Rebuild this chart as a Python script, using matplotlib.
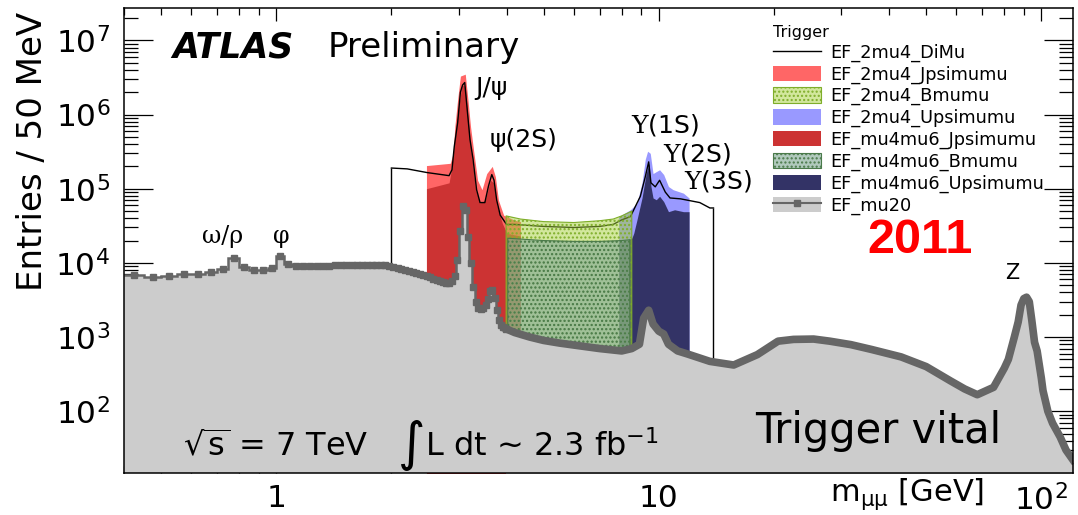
import numpy as np
import matplotlib.pyplot as plt
from matplotlib.patches import Patch
from matplotlib.lines import Line2D
from matplotlib.ticker import LogLocator, NullFormatter

W, H = 1078, 515

# EF_mu20, 50 MeV bins from 0.4 to 4 GeV
edges_lo = np.arange(0.40, 4.0001, 0.05)
mu20_lo = [6800, 6400, 6700, 7000, 7100, 7500, 8200, 11800, 8800, 8000, 7900, 8600,
           12300, 9600, 9200, 9100, 9000, 9100, 9200, 9100, 9300, 9400,
           9300, 9400, 9500, 9400, 9400, 9500, 9400, 9400, 9300, 9100,
           8800, 8600, 8300, 8000, 7800, 7600, 7300, 7000, 6800, 6600,
           6400, 6100, 5900, 5700, 5500, 5400, 5400, 5700, 6700, 11000,
           27000, 58000, 52000, 22000, 10000, 4700, 3000, 2500, 2400, 2500,
           2700, 3300, 4200, 4300, 3400, 2300, 1700, 1450, 1350, 1300]
# EF_mu20 above 4 GeV
m_hi = [3.975, 4.2, 4.6, 5.0, 5.5, 6.0, 7.0, 8.0, 8.5, 8.9, 9.13, 9.41, 9.66, 10.0,
        10.3, 10.6, 11.2, 11.9, 13.6, 15.7, 18.1, 20.5, 22.5, 25.4, 28, 31.8, 36,
        43, 50, 58, 63, 68, 75, 80, 82, 85, 87, 88.5, 90, 91.5, 93, 94.4, 96,
        97.5, 100, 101, 104, 107, 112, 116, 121]
mu20_hi = [1300, 1150, 1000, 900, 830, 780, 700, 650, 700, 800, 1800, 2300, 1500, 1200,
           1100, 800, 650, 590, 470, 420, 580, 880, 930, 940, 880, 790, 680,
           540, 400, 255, 200, 167, 210, 380, 500, 1000, 1600, 2700, 3300, 3450, 3000, 1700, 850,
           650, 280, 190, 100, 69, 45, 30, 22]

# EF_2mu4_DiMu
m_dimu = [2.0, 2.2, 2.48, 2.83, 2.88, 2.92, 2.98, 3.03, 3.07, 3.11, 3.16, 3.21, 3.27, 3.34,
          3.41, 3.51, 3.59, 3.66, 3.71, 3.77, 3.85, 4.0, 4.2, 5.0, 6.0, 7.0, 7.6, 8.0,
          8.43, 8.95, 9.22, 9.41, 9.54, 9.79, 10.05, 10.4, 10.7, 11.4, 12.8, 13.6, 13.9]
dimu = [1.9e5, 1.85e5, 1.65e5, 1.5e5, 1.8e5, 3.7e5, 7.8e5, 2.0e6, 2.5e6, 2.7e6, 1.1e6, 4.6e5,
        2.5e5, 9.7e4, 6.5e4, 6.5e4, 1.1e5, 1.55e5, 1.3e5, 7e4, 4.4e4, 3.3e4, 3.3e4, 3.1e4,
        3.0e4, 3.1e4, 3.3e4, 3.8e4, 4.2e4, 7.9e4, 1.45e5, 2.3e5, 1.2e5, 1.06e5, 1.3e5, 9e4,
        7.5e4, 7.3e4, 6.5e4, 5.5e4, 5.5e4]

# EF_2mu4_Jpsimumu
m_jpsi_a = [2.47, 2.85, 2.9, 2.93, 2.98, 3.03, 3.12, 3.17, 3.22, 3.28, 3.36, 3.45, 3.55,
            3.67, 3.74, 3.81, 3.93, 4.18, 4.35]
jpsi_a = [2.05e5, 2.2e5, 3.0e5, 6.9e5, 1.6e6, 3.3e6, 3.5e6, 1.6e6, 6.9e5, 3.3e5, 1.3e5,
          9.7e4, 1.6e5, 2.0e5, 1.45e5, 7e4, 4.4e4, 3.8e4, 3.6e4]
# EF_mu4mu6_Jpsimumu
m_jpsi_b = [2.47, 2.83, 2.88, 2.93, 3.0, 3.06, 3.12, 3.17, 3.23, 3.32, 3.41, 3.52, 3.63,
            3.7, 3.78, 3.9, 4.01, 4.35]
jpsi_b = [1.0e5, 1.2e5, 2.0e5, 5.0e5, 1.3e6, 2.5e6, 2.4e6, 9.5e5, 3.3e5, 9.7e4, 6.4e4,
          7e4, 1.3e5, 1.2e5, 5.8e4, 3.4e4, 2.5e4, 2.3e4]
# EF_2mu4_Bmumu
m_bmm_a = [3.99, 4.35, 5.0, 6.0, 7.0, 7.6, 8.0, 8.3, 8.5]
bmm_a = [4.3e4, 3.9e4, 3.6e4, 3.5e4, 3.7e4, 3.9e4, 4.3e4, 4.7e4, 5.0e4]
# EF_mu4mu6_Bmumu
m_bmm_b = [4.03, 5.0, 6.0, 7.0, 8.0, 8.4]
bmm_b = [2.15e4, 2.0e4, 1.95e4, 1.95e4, 2.0e4, 2.05e4]
# EF_2mu4_Upsimumu
m_ups_a = [7.85, 8.43, 8.77, 9.04, 9.22, 9.35, 9.5, 9.66, 9.85, 10.05, 10.3, 10.6, 10.9,
           11.6, 12.0]
ups_a = [4.2e4, 5.2e4, 6.4e4, 1.2e5, 2.5e5, 3.2e5, 3.0e5, 1.6e5, 1.7e5, 1.8e5, 1.55e5,
         1.07e5, 9.7e4, 8.7e4, 7.5e4]
# EF_mu4mu6_Upsimumu
m_ups_b = [7.85, 8.5, 8.6, 8.77, 9.04, 9.27, 9.43, 9.54, 9.66, 9.85, 10.05, 10.3, 10.6,
           11.0, 11.6, 12.0]
ups_b = [1.9e4, 2.15e4, 2.5e4, 3.8e4, 7.5e4, 1.6e5, 2.2e5, 1.07e5, 7.5e4, 7.1e4, 7.9e4,
         6.7e4, 4.9e4, 5.2e4, 4.9e4, 4.9e4]

labels = ['EF_2mu4_DiMu', 'EF_2mu4_Jpsimumu', 'EF_2mu4_Bmumu', 'EF_2mu4_Upsimumu',
          'EF_mu4mu6_Jpsimumu', 'EF_mu4mu6_Bmumu', 'EF_mu4mu6_Upsimumu', 'EF_mu20']

c_red_l, c_red_d = '#ff6666', '#cc3333'
c_blue_l, c_blue_d = '#9999ff', '#333366'
lg_face, lg_hatch = (0.65, 0.82, 0.24, 0.5), '#7fae2a'
dg_face, dg_hatch = (0.5, 0.66, 0.58, 0.62), '#4a7a4a'
grey_f, grey_l = '#cccccc', '#666666'
base = 1

plt.rcParams['hatch.linewidth'] = 1.0
fig = plt.figure(figsize=(W / 100, H / 100), dpi=100)
ax = fig.add_axes([124 / W, 1 - 473 / H, 949 / W, 465 / H])
ax.set_xscale('log')
ax.set_yscale('log')

ax.fill_between(m_jpsi_a, jpsi_a, base, color=c_red_l, lw=0, zorder=1)
ax.fill_between(m_jpsi_b, jpsi_b, base, color=c_red_d, lw=0, zorder=2)
ax.fill_between(m_ups_a, ups_a, base, color=c_blue_l, lw=0, zorder=1)
ax.fill_between(m_ups_b, ups_b, base, color=c_blue_d, lw=0, zorder=2)

ax.plot(m_dimu, dimu, color='black', lw=1, zorder=3)
ax.vlines([m_dimu[0], m_dimu[-1]], base, [dimu[0], dimu[-1]], color='black', lw=1, zorder=3)

ax.fill_between(m_bmm_a, bmm_a, base, facecolor=lg_face, edgecolor=lg_hatch, hatch='....',
                lw=0.8, zorder=4)
ax.fill_between(m_bmm_b, bmm_b, base, facecolor=dg_face, edgecolor=dg_hatch, hatch='....',
                lw=0.8, zorder=5)

# EF_mu20 on top
ax.stairs(mu20_lo, edges_lo, baseline=base, fill=True, color=grey_f, zorder=6)
ax.fill_between(m_hi, mu20_hi, base, color=grey_f, lw=0, zorder=6)
ax.stairs(mu20_lo, edges_lo, baseline=None, color=grey_l, lw=1.8, zorder=7)
centers = 0.5 * (edges_lo[1:] + edges_lo[:-1])
ax.plot(centers, mu20_lo, 's', color=grey_l, ms=4.5, zorder=8)
ax.plot(m_hi, mu20_hi, color=grey_l, lw=5.5, solid_joinstyle='round', zorder=7)

ax.set_xlim(0.4, 121)
ax.set_ylim(14.7, 2.73e7)
ax.set_xticks([1, 10, 100], labels=['1', '10', r'$10^{2}$'])
ax.set_yticks([1e2, 1e3, 1e4, 1e5, 1e6, 1e7],
              labels=[r'$10^{%d}$' % k for k in range(2, 8)])
ax.xaxis.set_minor_locator(LogLocator(base=10, subs=np.arange(2, 10), numticks=100))
ax.yaxis.set_minor_locator(LogLocator(base=10, subs=np.arange(2, 10), numticks=100))
ax.xaxis.set_minor_formatter(NullFormatter())
ax.yaxis.set_minor_formatter(NullFormatter())
ax.tick_params(which='both', direction='in', top=True, right=True, width=0.9, labelsize=22.5)
ax.tick_params(axis='x', which='major', length=9.5, pad=8)
ax.tick_params(axis='x', which='minor', length=5)
ax.tick_params(axis='y', which='major', length=21, pad=10)
ax.tick_params(axis='y', which='minor', length=10)
for s in ax.spines.values():
    s.set_linewidth(1.1)
    s.set_zorder(10)

ax.set_xlabel(r'm$_{\mathrm{μμ}}$ [GeV]', fontsize=22, loc='right', va='baseline')
ax.xaxis.set_label_coords((984 - 124) / 949, -(501 - 473) / 465)

def ftext(x, y, s, **kw):
    fig.text(x / W, 1 - y / H, s, **kw)

ftext(33, 151, 'Entries / 50 MeV', rotation=90, ha='center', va='center', fontsize=24.5)
ftext(172, 57, 'ATLAS', fontsize=25, weight='bold', style='italic', va='baseline')
ftext(328, 57, 'Preliminary', fontsize=24.5, va='baseline')

ftext(475, 88, 'J/ψ', fontsize=18, va='center')
ftext(490, 140, 'ψ(2S)', fontsize=18, va='center')
for x, y, s in [(631, 125, '1S'), (663, 154, '2S'), (684, 181, '3S')]:
    ftext(x, y, r'$\Upsilon$(%s)' % s, fontsize=18, va='center', math_fontfamily='dejavuserif')
ftext(202, 237, 'ω/ρ', fontsize=17, va='center', family='DejaVu Serif')
ftext(281, 237, 'φ', fontsize=17, va='center', ha='center', family='DejaVu Serif')
ftext(1012, 273, 'Z', fontsize=15, va='center', ha='center')

ftext(183, 447, r'$\sqrt{\mathrm{s}}$ = 7 TeV', fontsize=23, va='center')
ftext(398, 445, '∫', fontsize=38, va='center')
ftext(425, 447, r'L dt ~ 2.3 fb$^{-1}$', fontsize=23, va='center')
ftext(755, 443, 'Trigger vital', fontsize=30, va='baseline')
ftext(867, 253, '2011', fontsize=35, va='baseline', color='red', weight='bold',
      family='Liberation Sans')

handles = [
    Line2D([], [], color='black', lw=1),
    Patch(facecolor=c_red_l, edgecolor='none'),
    Patch(facecolor=lg_face, edgecolor=lg_hatch, hatch='....', lw=0.8),
    Patch(facecolor=c_blue_l, edgecolor='none'),
    Patch(facecolor=c_red_d, edgecolor='none'),
    Patch(facecolor=dg_face, edgecolor=dg_hatch, hatch='....', lw=0.8),
    Patch(facecolor=c_blue_d, edgecolor='none'),
    (Patch(facecolor=grey_f, edgecolor='none'),
     Line2D([], [], color=grey_l, lw=1.5, marker='s', ms=4)),
]
fig.legend(handles, labels, loc='upper left', bbox_to_anchor=(773 / W, 1 - 25 / H),
           frameon=False, title='Trigger', title_fontsize=11.5, fontsize=12.8,
           handlelength=2.7, handleheight=0.95, handletextpad=0.5, labelspacing=0.2,
           borderpad=0, borderaxespad=0, alignment='left')

fig.savefig('out.png', dpi=100)
